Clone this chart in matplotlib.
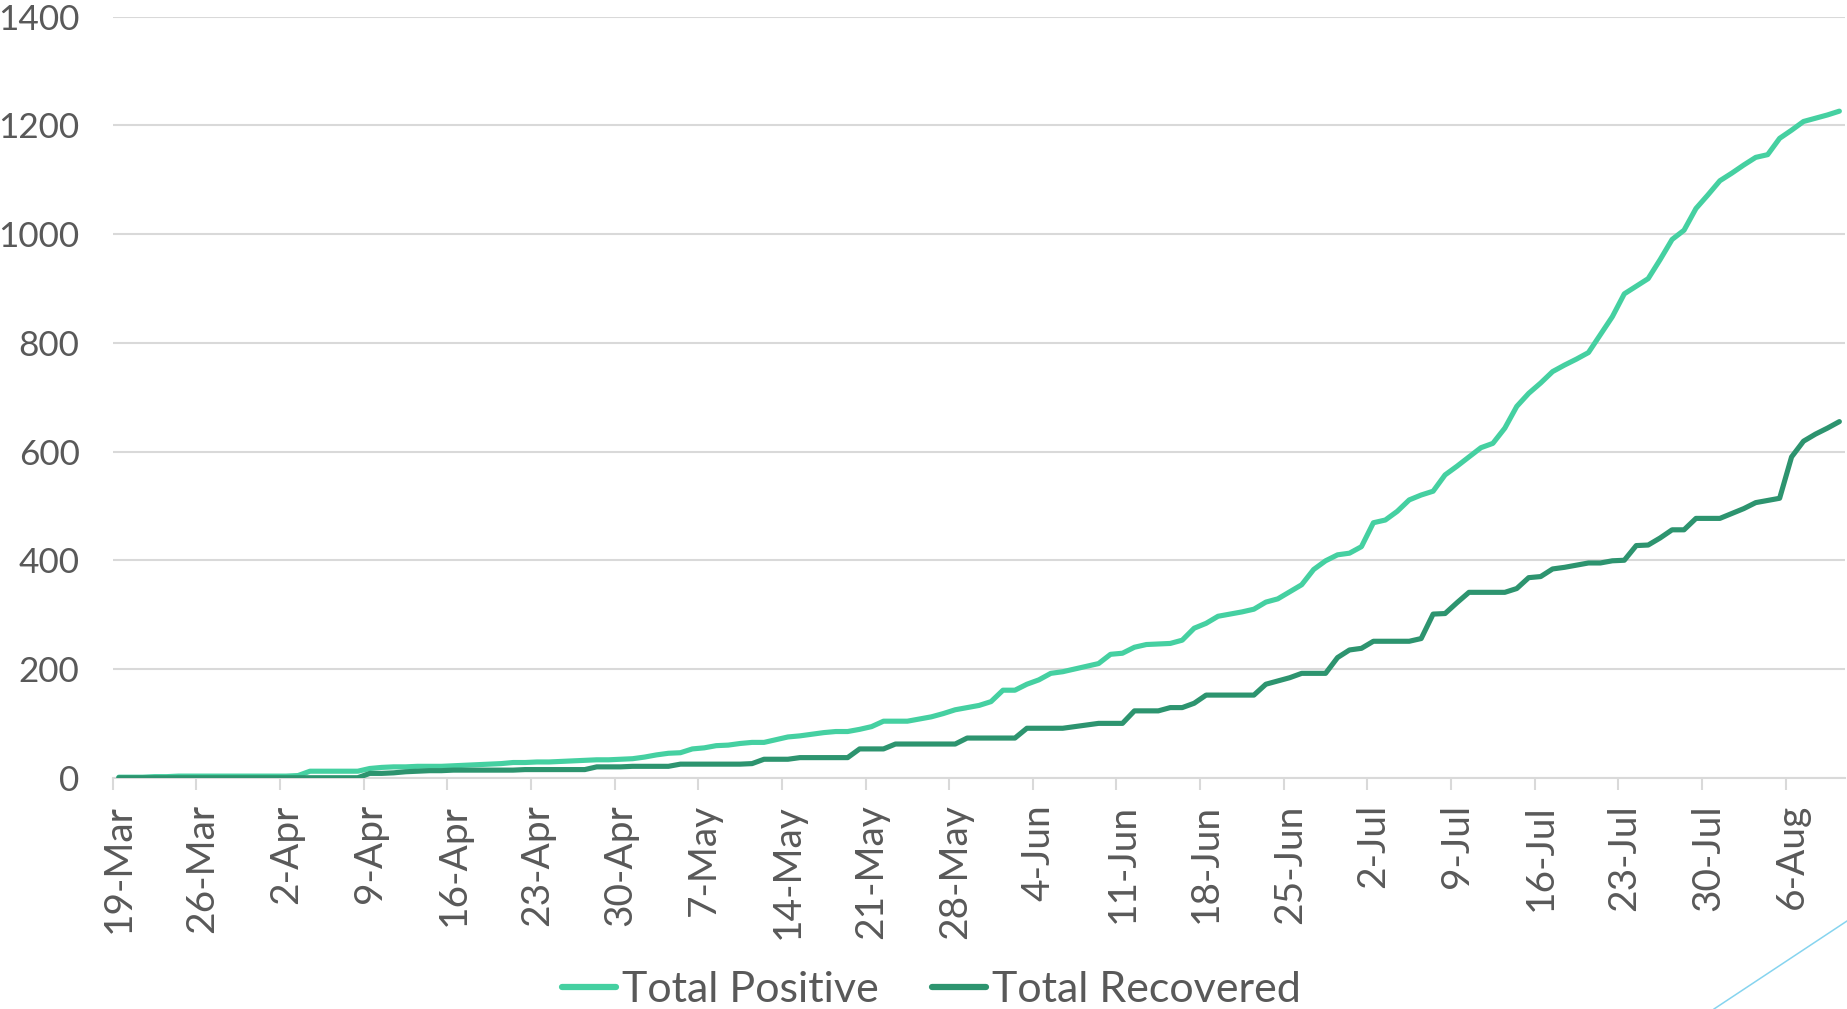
import matplotlib
matplotlib.use('Agg')
import matplotlib.pyplot as plt
import numpy as np
from matplotlib.lines import Line2D

# ---- data (19-Mar to 10-Aug, one value per day) ----
positive = [
    1, 1, 1, 2, 2, 3, 3, 3, 3, 3,
    3, 3, 3, 3, 3, 4, 12, 12, 12, 12,
    12, 17, 19, 20, 20, 21, 21, 21, 22, 23,
    24, 25, 26, 28, 28, 29, 29, 30, 31, 32,
    33, 33, 34, 35, 38, 42, 45, 46, 53, 55,
    59, 60, 63, 65, 65, 70, 75, 77, 80, 83,
    85, 85, 89, 94, 104, 104, 104, 108, 112, 118,
    125, 129, 133, 140, 161, 161, 172, 180, 192, 195,
    200, 205, 210, 227, 229, 240, 245, 246, 247, 253,
    275, 284, 297, 301, 305, 310, 323, 329, 342, 355,
    383, 399, 410, 413, 425, 469, 474, 490, 511, 520,
    527, 557, 573, 590, 607, 615, 643, 683, 707, 726,
    747, 759, 770, 782, 815, 848, 890, 904, 918, 953,
    990, 1007, 1047, 1072, 1098, 1112, 1127, 1141, 1146, 1176,
    1191, 1207, 1213, 1219, 1226,
]
recovered = [
    0, 0, 0, 0, 0, 0, 0, 0, 0, 0,
    0, 0, 0, 0, 0, 0, 0, 0, 0, 0,
    0, 8, 8, 9, 11, 12, 13, 13, 14, 14,
    14, 14, 14, 14, 15, 15, 15, 15, 15, 15,
    20, 20, 20, 21, 21, 21, 21, 25, 25, 25,
    25, 25, 25, 26, 34, 34, 34, 37, 37, 37,
    37, 37, 53, 53, 53, 62, 62, 62, 62, 62,
    62, 73, 73, 73, 73, 73, 91, 91, 91, 91,
    94, 97, 100, 100, 100, 123, 123, 123, 129, 129,
    137, 152, 152, 152, 152, 152, 172, 178, 184, 192,
    192, 192, 221, 235, 238, 251, 251, 251, 251, 256,
    301, 302, 322, 341, 341, 341, 341, 348, 368, 370,
    384, 387, 391, 395, 395, 399, 400, 427, 428, 441,
    456, 456, 477, 477, 477, 486, 495, 506, 510, 514,
    590, 619, 632, 643, 655,
]
tick_labels = ['19-Mar', '26-Mar', '2-Apr', '9-Apr', '16-Apr', '23-Apr', '30-Apr',
               '7-May', '14-May', '21-May', '28-May', '4-Jun', '11-Jun', '18-Jun',
               '25-Jun', '2-Jul', '9-Jul', '16-Jul', '23-Jul', '30-Jul', '6-Aug']
series_names = ['Total Positive', 'Total Recovered']
y_ticks = [0, 200, 400, 600, 800, 1000, 1200, 1400]

C_POS = '#45D0A1'
C_REC = '#2D946F'
GRID = '#D9D9D9'
TXT = '#595959'

plt.rcParams['font.family'] = ['Lato', 'DejaVu Sans']

fig = plt.figure(figsize=(18.47, 10.09), dpi=100)
ax = fig.add_axes([0.0611, 0.2292, 0.938, 0.7544])

n = len(positive)
x = np.arange(n) + 0.5
ax.plot(x, positive, color=C_POS, lw=3.7, solid_capstyle='round',
        solid_joinstyle='round', label=series_names[0], zorder=3)
ax.plot(x, recovered, color=C_REC, lw=3.7, solid_capstyle='round',
        solid_joinstyle='round', label=series_names[1], zorder=3)

ax.set_xlim(0, n)
ax.set_ylim(0, 1400)
ax.set_yticks(y_ticks)
ax.set_yticklabels([str(v) for v in y_ticks])
ax.yaxis.grid(True, color=GRID, lw=1.5)
ax.set_axisbelow(True)
for s in ['top', 'right', 'left']:
    ax.spines[s].set_visible(False)
ax.spines['bottom'].set_color(GRID)
ax.spines['bottom'].set_linewidth(1.5)
ax.tick_params(axis='y', length=0, pad=24, labelsize=25.3, labelcolor=TXT)

pos = np.arange(len(tick_labels)) * 7
ax.set_xticks(pos)
ax.set_xticklabels([''] * len(pos))
ax.tick_params(axis='x', which='major', length=8.6, width=1.5, color=GRID)
ax.set_xticks(pos + 0.5, minor=True)
ax.set_xticklabels(tick_labels, minor=True, rotation=90, fontsize=28, color=TXT)
ax.tick_params(axis='x', which='minor', length=0, pad=19)

leg = fig.legend(loc='center', bbox_to_anchor=(0.5043, 0.019), frameon=False,
                 fontsize=31, handlelength=1.25, handletextpad=0.14,
                 columnspacing=1.25, ncol=2, borderpad=0, labelcolor=TXT)
for h in leg.get_lines():
    h.set_linewidth(4.5)
    h.set_solid_capstyle('round')

# decorative thin line at lower right corner of the slide
fig.add_artist(Line2D([1714 / 1847, 1.0], [0.0, (1009 - 921) / 1009],
                      transform=fig.transFigure, color='#86D4EF', lw=1.1))

fig.savefig('out.png', dpi=100)
